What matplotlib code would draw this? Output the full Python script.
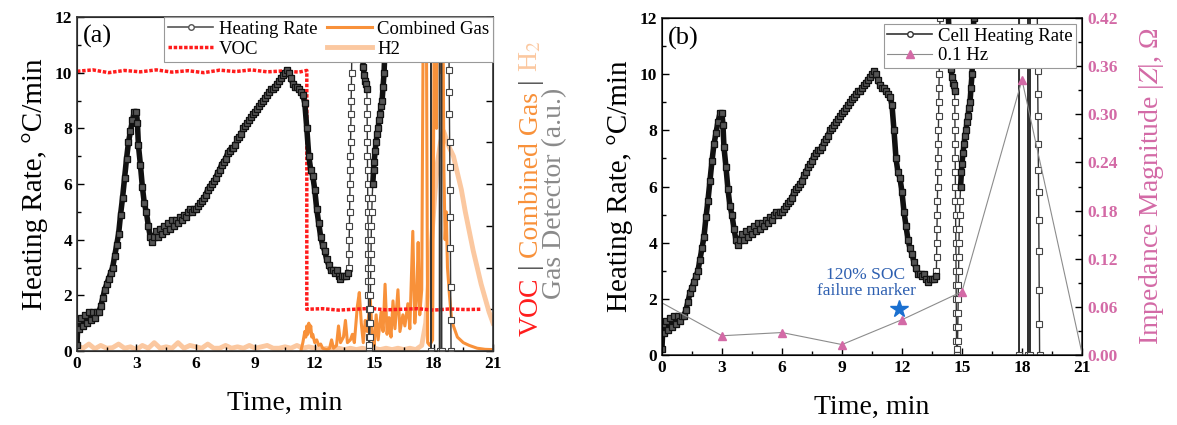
import matplotlib
matplotlib.use('Agg')
import matplotlib.pyplot as plt
from matplotlib.lines import Line2D
from matplotlib.ticker import MultipleLocator
from matplotlib.transforms import IdentityTransform

plt.rcParams['font.family'] = ['Liberation Serif', 'DejaVu Serif']
plt.rcParams['mathtext.fontset'] = 'stix'

# ---------------------------------------------------------------------------
# Data
# cell heating rate (degC/min) vs time (min); values > 12 are off scale
hr_time = [
    0.00, 0.05, 0.10, 0.20, 0.30, 0.40, 0.50, 0.60, 0.70, 0.80,
    0.90, 1.00, 1.10, 1.20, 1.30, 1.40, 1.50, 1.60, 1.70, 1.80,
    1.90, 2.00, 2.10, 2.20, 2.30, 2.40, 2.50, 2.60, 2.70, 2.80,
    2.90, 3.00, 3.05, 3.10, 3.20, 3.30, 3.40, 3.50, 3.60, 3.70,
    3.80, 3.90, 4.00, 4.10, 4.20, 4.30, 4.40, 4.50, 4.60, 4.70,
    4.80, 4.90, 5.00, 5.10, 5.20, 5.30, 5.40, 5.50, 5.60, 5.70,
    5.80, 5.90, 6.00, 6.10, 6.20, 6.30, 6.40, 6.50, 6.60, 6.70,
    6.80, 6.90, 7.00, 7.10, 7.20, 7.30, 7.40, 7.50, 7.60, 7.70,
    7.80, 7.90, 8.00, 8.10, 8.20, 8.30, 8.40, 8.50, 8.60, 8.70,
    8.80, 8.90, 9.00, 9.10, 9.20, 9.30, 9.40, 9.50, 9.60, 9.70,
    9.80, 9.90, 10.00, 10.10, 10.20, 10.30, 10.40, 10.50, 10.60, 10.70,
    10.80, 10.90, 11.00, 11.10, 11.20, 11.30, 11.40, 11.50, 11.60, 11.70,
    11.80, 11.90, 12.00, 12.10, 12.20, 12.30, 12.40, 12.50, 12.60, 12.70,
    12.80, 12.90, 13.00, 13.10, 13.20, 13.30, 13.40, 13.50, 13.60, 13.70,
    13.72, 13.73, 13.74, 13.75, 13.76, 13.77, 13.78, 13.79, 13.80, 13.81,
    13.82, 13.83, 13.84, 13.85, 13.86, 13.87, 13.88, 13.89, 13.90, 13.91,
    13.93, 14.20, 14.28, 14.30, 14.35, 14.40, 14.45, 14.50, 14.55, 14.60,
    14.63, 14.64, 14.645, 14.65, 14.655, 14.66, 14.665, 14.67, 14.675, 14.68,
    14.685, 14.69, 14.695, 14.70, 14.705, 14.71, 14.715, 14.72, 14.725, 14.73,
    14.74, 14.76,
    14.78, 14.79, 14.80, 14.81, 14.82, 14.83, 14.84, 14.85, 14.86, 14.88,
    14.90, 14.93, 14.97, 15.00, 15.05, 15.10, 15.15, 15.20, 15.25, 15.30,
    15.35, 15.40, 15.45, 15.50, 15.53, 15.56, 15.59, 15.62, 16.50, 17.84,
    17.86, 17.88, 18.28, 18.30, 18.32, 18.38, 18.40, 18.42, 18.72, 18.76,
    18.77, 18.78, 18.79, 18.80, 18.81, 18.82, 18.83, 18.84, 18.85, 18.86,
    18.87, 18.88]
hr_rate = [
    0.2, 1.1, 0.8, 1.2, 0.9, 1.3, 1.0, 1.4, 1.1, 1.4,
    1.2, 1.4, 1.4, 1.6, 1.9, 2.2, 2.4, 2.6, 2.8, 3.0,
    3.4, 3.8, 4.2, 4.9, 5.5, 6.2, 6.9, 7.5, 7.9, 8.3,
    8.6, 8.6, 8.2, 7.4, 6.7, 5.9, 5.3, 5.0, 4.5, 4.1,
    3.9, 4.1, 4.3, 4.1, 4.4, 4.2, 4.5, 4.3, 4.6, 4.4,
    4.7, 4.5, 4.7, 4.6, 4.8, 4.7, 4.9, 4.8, 5.0, 5.1,
    5.0, 5.1, 5.1, 5.2, 5.3, 5.4, 5.5, 5.6, 5.8, 5.9,
    6.0, 6.1, 6.2, 6.4, 6.5, 6.7, 6.8, 6.9, 7.1, 7.2,
    7.3, 7.3, 7.4, 7.6, 7.7, 7.8, 8.0, 8.1, 8.2, 8.3,
    8.4, 8.5, 8.6, 8.7, 8.8, 8.9, 9.0, 9.1, 9.2, 9.3,
    9.4, 9.4, 9.5, 9.6, 9.7, 9.8, 9.9, 10.0, 10.1, 10.0,
    9.8, 9.6, 9.5, 9.5, 9.4, 9.3, 9.2, 8.9, 8.0, 7.0,
    6.5, 6.3, 5.8, 5.1, 4.6, 4.1, 3.8, 3.6, 3.3, 3.1,
    2.9, 2.9, 2.8, 2.9, 2.7, 2.6, 2.7, 2.7, 2.7, 2.8,
    3.0, 3.5, 4.0, 4.5, 5.0, 5.5, 6.0, 6.5, 7.0, 7.5,
    8.0, 8.5, 9.0, 9.5, 10.0, 10.5, 11.0, 11.5, 12.0, 12.5,
    14.0, 20.0, 14.0, 12.4, 11.5, 10.8, 10.2, 9.9, 9.7, 9.6,
    9.4, 9.0, 8.5, 8.0, 7.5, 7.0, 6.5, 6.0, 5.5, 5.0,
    4.5, 4.0, 3.5, 3.0, 2.5, 2.0, 1.5, 1.0, 0.5, 0.2,
    0.0, 0.0,
    0.5, 1.0, 1.5, 2.0, 2.5, 3.0, 3.5, 4.0, 4.5, 5.0,
    5.5, 6.0, 6.5, 6.8, 7.2, 7.5, 7.8, 8.0, 8.3, 8.5,
    8.8, 9.0, 9.5, 10.0, 10.6, 11.3, 12.0, 13.0, 30.0, 30.0,
    0.0, 30.0, 30.0, 0.0, 30.0, 30.0, 0.0, 30.0, 30.0, 12.6,
    11.3, 10.1, 9.3, 8.5, 7.5, 6.6, 5.8, 4.8, 3.7, 2.3,
    1.1, 0.0]
# index ranges of the slowly varying stretches, drawn as a dense dark band
DENSE_PARTS = [(0, 140), (162, 171), (203, 220)]

# gas detector signals (a.u.), on the right axis of panel (a)
voc_time = [0.0, 0.8, 1.6, 2.4, 3.2, 4.0, 4.8, 5.6, 6.4, 7.2, 8.0, 8.8, 9.6,
            10.4, 11.2, 11.6, 11.6, 12.4, 13.2, 14.0, 14.8, 15.6, 16.4, 17.2,
            18.0, 18.8, 19.6, 20.4]
voc_level = [10.05, 10.1, 10.0, 10.08, 10.03, 10.1, 10.02, 10.07, 10.0, 10.09,
             10.04, 10.1, 10.03, 10.06, 10.02, 10.08, 1.5, 1.52, 1.47, 1.5,
             1.53, 1.48, 1.5, 1.52, 1.47, 1.51, 1.49, 1.5]

cg_time = [
    11.30, 11.40, 11.50, 11.55, 11.60, 11.65, 11.70, 11.75, 11.80, 11.85,
    11.90, 12.00, 12.10, 12.20, 12.30, 12.40, 12.60, 12.75, 12.85, 12.95,
    13.10, 13.20, 13.30, 13.45, 13.55, 13.65, 13.80, 13.90, 14.00, 14.15,
    14.25, 14.35, 14.45, 14.55, 14.65, 14.80, 14.90, 15.00, 15.10, 15.20,
    15.35, 15.45, 15.55, 15.65, 15.75, 15.85, 15.95, 16.05, 16.20, 16.30,
    16.45, 16.55, 16.70, 16.80, 16.95, 17.05, 17.15, 17.22, 17.30, 17.40,
    17.50, 17.62, 17.70, 17.80, 17.95, 18.05, 18.15, 18.20, 18.30, 18.35,
    18.45, 18.52, 18.58, 18.64, 18.70, 18.80, 18.90, 19.00, 19.20, 19.50,
    19.80, 20.20, 20.60, 21.00]
cg_level = [
    0.0, 0.3, 0.7, 0.5, 0.9, 0.6, 1.0, 0.7, 0.9, 0.5,
    0.6, 0.3, 0.4, 0.2, 0.25, 0.1, 0.05, 0.1, 0.4, 0.1,
    0.2, 0.9, 0.3, 0.5, 1.1, 0.3, 0.4, 0.6, 0.3, 1.6,
    2.1, 1.0, 0.3, 1.1, 0.7, 1.9, 0.6, 0.2, 1.3, 0.4,
    1.4, 0.7, 2.4, 0.6, 1.2, 0.5, 1.8, 0.8, 2.2, 0.7,
    1.3, 0.9, 1.7, 0.8, 4.3, 1.0, 2.0, 3.9, 1.3, 2.2,
    15.0, 15.0, 0.3, 0.2, 0.4, 15.0, 8.0, 15.0, 15.0, 10.0,
    15.0, 6.5, 4.0, 5.0, 3.0, 2.0, 1.2, 0.9, 0.5, 0.3,
    0.2, 0.1, 0.06, 0.05]

h2_time = [
    0.0, 0.3, 0.6, 0.9, 1.2, 1.5, 1.8, 2.1, 2.4, 2.7,
    3.0, 3.3, 3.6, 3.9, 4.2, 4.5, 4.8, 5.1, 5.4, 5.7,
    6.0, 6.3, 6.6, 6.9, 7.2, 7.5, 7.8, 8.1, 8.4, 8.7,
    9.0, 9.3, 9.6, 9.9, 10.2, 10.5, 10.8, 11.1, 11.4, 11.7,
    12.0, 12.3, 12.6, 12.9, 13.2, 13.5, 13.8, 14.1, 14.4, 14.7,
    15.0, 15.3, 15.6, 15.9, 16.2, 16.5, 16.8, 17.1, 17.4, 17.6,
    17.75, 17.9, 18.05, 18.2, 18.35, 18.5, 18.65, 18.8, 19.0, 19.2,
    19.4, 19.6, 19.8, 20.0, 20.2, 20.4, 20.6, 20.8, 21.0]
h2_level = [
    0.2, 0.1, 0.25, 0.08, 0.2, 0.1, 0.12, 0.25, 0.1, 0.15,
    0.05, 0.2, 0.1, 0.3, 0.1, 0.15, 0.1, 0.3, 0.1, 0.2,
    0.15, 0.1, 0.25, 0.1, 0.1, 0.2, 0.1, 0.15, 0.1, 0.2,
    0.1, 0.15, 0.2, 0.1, 0.1, 0.15, 0.1, 0.2, 0.1, 0.15,
    0.1, 0.05, 0.1, 0.05, 0.1, 0.05, 0.1, 0.05, 0.1, 0.05,
    0.1, 0.05, 0.1, 0.05, 0.1, 0.05, 0.1, 0.05, 0.2, 1.0,
    2.5, 4.0, 5.5, 6.8, 7.5, 7.9, 7.6, 7.3, 7.0, 6.4,
    5.8, 5.0, 4.3, 3.6, 3.0, 2.4, 1.9, 1.4, 1.0]

# impedance magnitude at 0.1 Hz (ohm)
imp_time = [0, 3, 6, 9, 12, 15, 18, 21]
imp_mag = [0.065, 0.024, 0.028, 0.013, 0.044, 0.079, 0.343, 0.002]

# failure marker (time, heating-rate axis)
marker_time = [11.85]
marker_rate = [1.63]

RED = '#ff1c1c'
ORANGE = '#f8913a'
PEACH = '#fbc8a0'
PINK = '#d36aa6'
BLUE = '#2d5fb0'
STAR = '#1a70d0'
GREY = '#8a8a8a'

# ---------------------------------------------------------------------------
fig = plt.figure(figsize=(11.77, 4.25), dpi=100)
ax_a = fig.add_axes([0.0654, 0.1741, 0.3535, 0.7859])
ax_a2 = ax_a.twinx()
ax_b = fig.add_axes([0.5624, 0.1647, 0.3569, 0.7929])
ax_b2 = ax_b.twinx()


def draw_heating(ax):
    # full record: thin line with open squares
    ax.plot(hr_time, hr_rate, color='#333333', lw=1.0, marker='s', ms=4,
            mfc='white', mec='#444444', mew=0.8)
    # slow stretches: thick dark band of overlapping squares
    for i0, i1 in DENSE_PARTS:
        ax.plot(hr_time[i0:i1], hr_rate[i0:i1], color='#111111', lw=4,
                marker='s', ms=4.5, mfc='#555555', mec='#111111', mew=0.9)


def style_axes(ax):
    ax.set_xlim(0, 21)
    ax.set_ylim(0, 12)
    ax.xaxis.set_major_locator(MultipleLocator(3))
    ax.xaxis.set_minor_locator(MultipleLocator(1.5))
    ax.yaxis.set_major_locator(MultipleLocator(2))
    ax.yaxis.set_minor_locator(MultipleLocator(1))
    ax.tick_params(which='both', direction='in', width=1, labelsize=12.5)
    ax.tick_params(which='major', length=5)
    ax.tick_params(which='minor', length=3)
    for s in ax.spines.values():
        s.set_linewidth(1.2)
        s.set_color('#333333')
    for lab in ax.get_xticklabels() + ax.get_yticklabels():
        lab.set_fontweight('bold')
    ax.set_xlabel('Time, min', fontsize=20, labelpad=14)
    ax.set_ylabel('Heating Rate, \u00b0C/min', fontsize=21, labelpad=5)


# ---------------- panel (a) ----------------
h2_line, = ax_a2.plot(h2_time, h2_level, color=PEACH, lw=3.5)
cg_line, = ax_a2.plot(cg_time, cg_level, color=ORANGE, lw=2.2)
voc_line, = ax_a2.plot(voc_time, voc_level, color=RED, lw=2.5,
                       ls=(0, (1, 0.5)))
ax_a2.set_ylim(0, 12)
ax_a2.yaxis.set_major_locator(MultipleLocator(1.5))
ax_a2.tick_params(direction='in', length=5, width=1, labelright=False)

draw_heating(ax_a)
style_axes(ax_a)
ax_a.set_zorder(ax_a2.get_zorder() + 1)
ax_a.patch.set_visible(False)
ax_a.text(0.014, 0.975, '(a)', transform=ax_a.transAxes, fontsize=19,
          va='top', ha='left')

hr_proxy = Line2D([], [], color='#555555', lw=1.2, marker='o', ms=4,
                  mfc='white', mec='#555555')
leg = ax_a.legend([hr_proxy, voc_line, cg_line, h2_line],
                  ['Heating Rate', 'VOC', 'Combined Gas', 'H2'],
                  ncol=2, loc='upper right', borderaxespad=0, fontsize=13.5,
                  fancybox=False, edgecolor='#999999', framealpha=1,
                  handlelength=2.4, handletextpad=0.3, columnspacing=0.5,
                  borderpad=0.2, labelspacing=0.15)
leg.get_frame().set_linewidth(0.8)

# ---------------- panel (b) ----------------
draw_heating(ax_b)
style_axes(ax_b)
ax_b.plot(marker_time, marker_rate, ls='none', marker='*', ms=13, color=STAR)
ax_b.text(10.2, 2.55, '120% SOC\nfailure marker', ha='center', va='center',
          color=BLUE, fontsize=12.5, linespacing=1.0)
ax_b.text(0.014, 0.975, '(b)', transform=ax_b.transAxes, fontsize=19,
          va='top', ha='left')

ax_b2.plot(imp_time, imp_mag, color='#8c8c8c', lw=0.8, marker='^', ms=6,
           mfc=PINK, mec=PINK, markevery=slice(1, -1))
ax_b2.set_ylim(0, 0.42)
ax_b2.yaxis.set_major_locator(MultipleLocator(0.06))
ax_b2.yaxis.set_minor_locator(MultipleLocator(0.03))
ax_b2.yaxis.set_major_formatter(plt.FormatStrFormatter('%.2f'))
ax_b2.tick_params(which='both', direction='in', width=1, labelsize=12.5,
                  labelcolor=PINK)
ax_b2.tick_params(which='major', length=5)
ax_b2.tick_params(which='minor', length=3)
for lab in ax_b2.get_yticklabels():
    lab.set_fontweight('bold')
ax_b2.set_ylabel('Impedance Magnitude |$Z$|, \u03a9', color=PINK, fontsize=20,
                 labelpad=14)

imp_proxy = Line2D([], [], color='#8c8c8c', lw=0.8, marker='^', ms=6,
                   mfc=PINK, mec=PINK)
hr_proxy_b = Line2D([], [], color='#333333', lw=1.2, marker='o', ms=4,
                    mfc='white', mec='#333333')
leg_b = ax_b2.legend([hr_proxy_b, imp_proxy], ['Cell Heating Rate', '0.1 Hz'],
                     loc='upper right', borderaxespad=0.3, fontsize=13.5,
                     fancybox=False, edgecolor='#999999', framealpha=1,
                     handlelength=2.4, handletextpad=0.3, borderpad=0.2,
                     labelspacing=0.15)
leg_b.get_frame().set_linewidth(0.8)

# ---------------- multi-coloured right label of panel (a) ----------------
H = 425
renderer = fig.canvas.get_renderer()
parts = [('VOC', RED), (' | ', '#444444'), ('Combined Gas', ORANGE),
         (' | ', '#444444'), ('H$_2$', PEACH)]
pieces = []
for s, c in parts:
    t = fig.text(0, 0, s, color=c, fontsize=20, rotation=90,
                 rotation_mode='anchor', ha='left', va='center',
                 transform=IdentityTransform())
    pieces.append(t)
lengths = [p.get_window_extent(renderer).height for p in pieces]
y0 = (H - 188) - sum(lengths) / 2
for p, L in zip(pieces, lengths):
    p.set_position((531, y0))
    y0 += L
fig.text(555, H - 193, 'Gas Detector (a.u.)', color=GREY, fontsize=20,
         rotation=90, ha='center', va='center', transform=IdentityTransform())

fig.savefig('out.png', dpi=100)
